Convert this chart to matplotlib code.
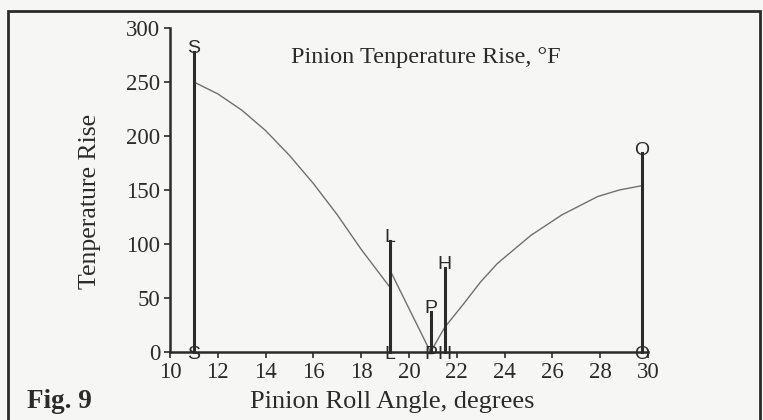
import matplotlib.pyplot as plt
from matplotlib.patches import Rectangle

# curve (pinion roll angle, temperature rise)
left_x = [11.0, 12.0, 13.0, 14.0, 15.0, 16.0, 17.0, 18.0, 19.2]
left_y = [250, 239, 224, 205, 182, 156, 127, 95, 60]
mid_x = [19.2, 20.9]
mid_y = [76, 0]
right_x = [20.9, 21.5, 22.3, 23.0, 23.7, 25.1, 26.4, 27.9, 28.8, 29.75]
right_y = [0, 23, 45, 65, 82, 108, 127, 144, 150, 154]

# labelled vertical markers
marker_names = ["S", "L", "P", "H", "O"]
marker_x = [11.0, 19.2, 20.9, 21.5, 29.75]
marker_top = [278, 103, 37, 78, 184]

x_ticks = [10, 12, 14, 16, 18, 20, 22, 24, 26, 28, 30]
y_ticks = [0, 50, 100, 150, 200, 250, 300]

SERIF = ["Liberation Serif", "DejaVu Serif"]
SANS = ["Liberation Sans", "DejaVu Sans"]
INK = "#2b2b2b"
BG = "#f6f6f4"

W, H = 763, 420
fig = plt.figure(figsize=(W / 100, H / 100), dpi=100, facecolor=BG)
ax = fig.add_axes([170 / W, 1 - 352 / H, (648 - 170) / W, (352 - 28) / H])
ax.set_facecolor(BG)

# temperature curve (thin grey)
for xs, ys in [(left_x, left_y), (mid_x, mid_y), (right_x, right_y)]:
    ax.plot(xs, ys, color="#707070", lw=1.0, zorder=2)

# vertical marker lines with labels at top and bottom
for name, mx, top in zip(marker_names, marker_x, marker_top):
    ax.plot([mx, mx], [0, top], color=INK, lw=2.2, zorder=3, clip_on=False)
    ax.text(mx, top + 3, name, ha="center", va="center", fontsize=14,
            family=SANS, color=INK, clip_on=False, zorder=4)
    ax.text(mx, -2, name, ha="center", va="center", fontsize=14,
            family=SANS, color=INK, clip_on=False, zorder=4)

ax.set_xlim(10, 30)
ax.set_ylim(0, 300)
ax.set_xticks(x_ticks)
ax.set_yticks(y_ticks)
for s in ["top", "right"]:
    ax.spines[s].set_visible(False)
for s in ["left", "bottom"]:
    ax.spines[s].set_linewidth(1.8)
    ax.spines[s].set_color(INK)
ax.tick_params(direction="out", length=4, width=1.2, color=INK,
               labelcolor=INK, labelsize=16.5, pad=3)
for lab in ax.get_xticklabels() + ax.get_yticklabels():
    lab.set_family(SERIF)

ax.text(20.7, 273, "Pinion Tenperature Rise, \u00b0F", ha="center", va="center",
        fontsize=17.5, family=SERIF, color=INK)

fig.text(90 / W, 1 - 201 / H, "Tenperature Rise", rotation=90, ha="center",
         va="center", fontsize=18.5, family=SERIF, color=INK)
fig.text(392 / W, 1 - 402 / H, "Pinion Roll Angle, degrees", ha="center",
         va="center", fontsize=19, family=SERIF, color=INK)
fig.text(27 / W, 1 - 401 / H, "Fig. 9", ha="left", va="center",
         fontsize=19.5, fontweight="bold", family=SERIF, color=INK)

# frame around the figure, open at the bottom edge
fig.patches.append(Rectangle((8 / W, -0.2), (760 - 8) / W, 1.2 - 11 / H,
                             transform=fig.transFigure, fill=False,
                             lw=2, edgecolor=INK, clip_on=False))

fig.savefig("out.png", dpi=100, facecolor=BG)
